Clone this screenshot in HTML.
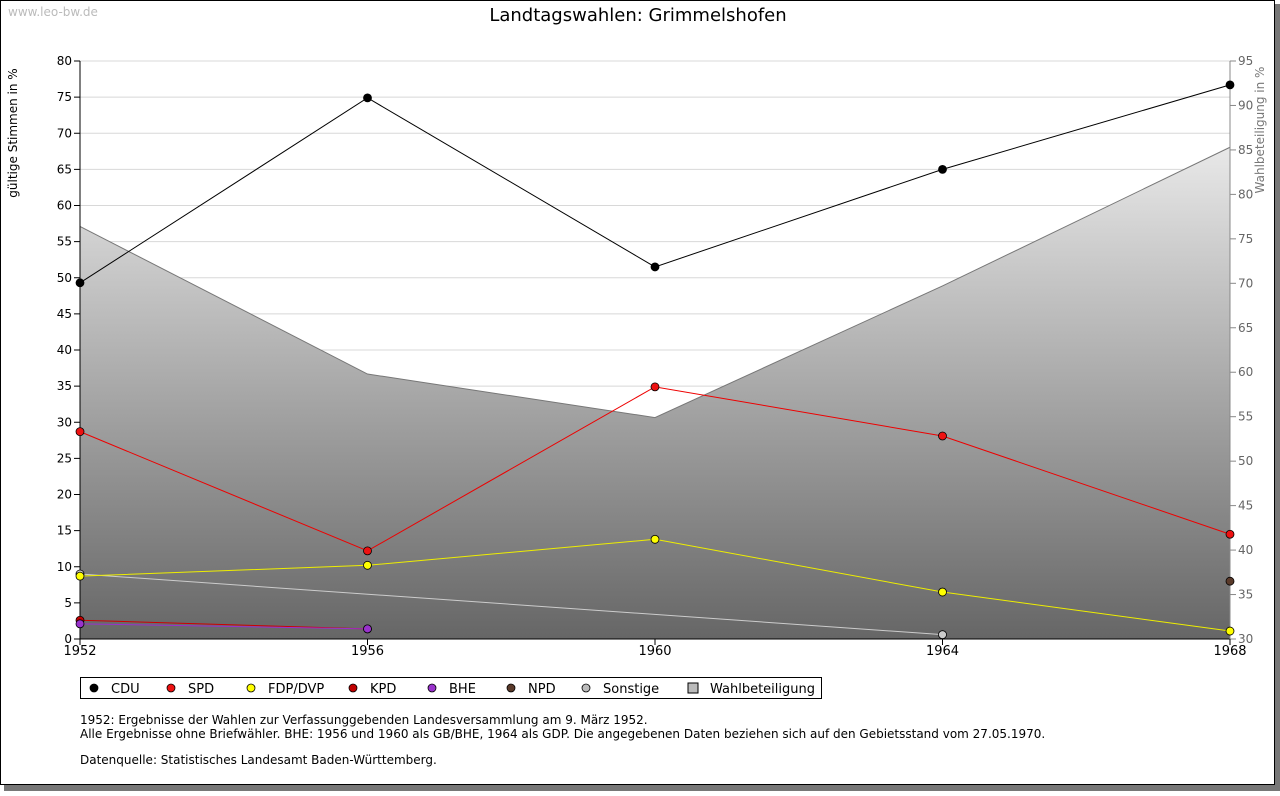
<!DOCTYPE html>
<html><head><meta charset="utf-8">
<style>
html,body{margin:0;padding:0;background:#fff;}
body{width:1280px;height:791px;overflow:hidden;font-family:"Liberation Sans","DejaVu Sans",sans-serif;}
svg text{font-family:"DejaVu Sans","Liberation Sans",sans-serif;}
</style></head>
<body>
<svg id="chart" width="1280" height="791" xmlns="http://www.w3.org/2000/svg">
<defs>
<linearGradient id="wbg" x1="0" y1="61" x2="0" y2="639" gradientUnits="userSpaceOnUse">
<stop offset="0" stop-color="#ffffff"/><stop offset="1" stop-color="#666666"/>
</linearGradient>
</defs>
<rect x="4" y="4" width="1276" height="787" fill="#777"/>
<rect x="0.5" y="0.5" width="1274" height="784" fill="#fff" stroke="#000"/>
<text x="8" y="16" font-size="12" fill="#bbb">www.leo-bw.de</text>
<text x="638" y="21" font-size="18" text-anchor="middle" fill="#000">Landtagswahlen: Grimmelshofen</text>
<text transform="translate(17,133) rotate(-90)" font-size="12" text-anchor="middle">gültige Stimmen in %</text>
<text transform="translate(1264,130) rotate(-90)" font-size="12" text-anchor="middle" fill="#777">Wahlbeteiligung in %</text>
<g id="grid"></g><g id="area"></g><g id="axes"></g><g id="series"></g>
<g>
<rect x="80.5" y="677.5" width="741" height="21" fill="#fff" stroke="#000"/>
<g id="legend"></g>
</g>
<text x="80" y="724" font-size="12">1952: Ergebnisse der Wahlen zur Verfassunggebenden Landesversammlung am 9. März 1952.</text>
<text x="80" y="738" font-size="12">Alle Ergebnisse ohne Briefwähler. BHE: 1956 und 1960 als GB/BHE, 1964 als GDP. Die angegebenen Daten beziehen sich auf den Gebietsstand vom 27.05.1970.</text>
<text x="80" y="764" font-size="12">Datenquelle: Statistisches Landesamt Baden-Württemberg.</text>
</svg>
<script>
const years=[1952,1956,1960,1964,1968];
const cdu=[49.3,74.9,51.5,65.0,76.7];
const spd=[28.7,12.2,34.9,28.1,14.5];
const fdp=[8.7,10.2,13.8,6.5,1.1];
const kpd=[2.6,1.4,null,null,null];
const bhe=[2.1,1.4,null,null,null];
const npd=[null,null,null,null,8.0];
const sonstige=[9.0,null,null,0.6,null];
const wahlbeteiligung=[76.4,59.8,54.9,69.7,85.3];
const leftTicks=[0,5,10,15,20,25,30,35,40,45,50,55,60,65,70,75,80];
const rightTicks=[30,35,40,45,50,55,60,65,70,75,80,85,90,95];
const legendLabels=["CDU","SPD","FDP/DVP","KPD","BHE","NPD","Sonstige","Wahlbeteiligung"];

const X0=80,X1=1230,Y0=639,Y1=61;
const xs=y=>X0+(y-1952)/(1968-1952)*(X1-X0);
const ys=v=>Y0-v/80*(Y0-Y1);
const ys2=v=>Y0-(v-30)/65*(Y0-Y1);
const NS="http://www.w3.org/2000/svg";
function mk(tag,attrs,parent){const e=document.createElementNS(NS,tag);for(const k in attrs)e.setAttribute(k,attrs[k]);parent.appendChild(e);return e;}
const grid=document.getElementById('grid'),axes=document.getElementById('axes'),area=document.getElementById('area'),ser=document.getElementById('series'),leg=document.getElementById('legend');

leftTicks.forEach(t=>{const y=ys(t);
 if(t>0){const l=mk('line',{x1:X0,x2:X1,y1:y,y2:y,stroke:'#d8d8d8'},grid);
 
 }
 mk('line',{x1:X0-6,x2:X0,y1:y,y2:y,stroke:'#000'},axes);
 const tx=mk('text',{x:X0-8,y:y+4,'font-size':12,'text-anchor':'end'},axes);tx.textContent=t;
 
 
});
rightTicks.forEach(t=>{const y=ys2(t);
 mk('line',{x1:X1,x2:X1+6,y1:y,y2:y,stroke:'#888'},axes);
 const tx=mk('text',{x:X1+8,y:y+4,'font-size':12,fill:'#666'},axes);tx.textContent=t;
 
 
});
let d='M'+xs(years[0])+','+Y0;
years.forEach((yr,i)=>{d+=' L'+xs(yr)+','+ys2(wahlbeteiligung[i]);});
d+=' L'+xs(years[years.length-1])+','+Y0+' Z';
const ar=mk('path',{d:d,fill:'url(#wbg)',stroke:'none'},area);


const al=mk('polyline',{points:years.map((yr,i)=>xs(yr)+','+ys2(wahlbeteiligung[i])).join(' '),fill:'none',stroke:'#777'},area);



mk('line',{x1:X0,x2:X0,y1:Y1,y2:Y0,stroke:'#000'},axes);
mk('line',{x1:X0,x2:X1,y1:Y0,y2:Y0,stroke:'#000'},axes);
mk('line',{x1:X1,x2:X1,y1:Y1,y2:Y0,stroke:'#888'},axes);
years.forEach(yr=>{const x=xs(yr);
 mk('line',{x1:x,x2:x,y1:Y0,y2:Y0+6,stroke:'#000'},axes);
 const tx=mk('text',{x:x,y:Y0+16,'font-size':13,'text-anchor':'middle'},axes);tx.textContent=yr;
 
 
});

const series=[[sonstige,'#ccc','#ccc','sonstige'],[npd,'#5a3a2a','#5a3a2a','npd'],[kpd,'#c00','#c00000','kpd'],[bhe,'#9932cc','#9932cc','bhe'],[fdp,'#ee0','#ffff00','fdp'],[spd,'#e00','#ee1111','spd'],[cdu,'#000','#000','cdu']];
series.forEach(([vals,lc,fc,name])=>{
 const pts=[];vals.forEach((v,i)=>{if(v!==null)pts.push([xs(years[i]),ys(v)]);});
 if(pts.length>1){const pl=mk('polyline',{points:pts.map(p=>p.join(',')).join(' '),fill:'none',stroke:lc,'stroke-width':1},ser);
 
 }
 pts.forEach(p=>{const c=mk('circle',{cx:p[0],cy:p[1],r:4,fill:fc,stroke:'#000','stroke-width':0.8},ser);
 
 });
});

const legCols=['#000','#ee1111','#ffff00','#c00000','#9932cc','#5a3a2a','#bbb'];
const legX=[94,171,251,353,432,511,586,693];
legendLabels.forEach((lab,i)=>{const x=legX[i],y=688;
 if(i<7){const m=mk('circle',{cx:x,cy:y,r:4,fill:legCols[i],stroke:'#000','stroke-width':0.8},leg);
 
 }
 else{const m=mk('rect',{x:x-5,y:y-5,width:10,height:10,fill:'#bbb',stroke:'#000'},leg);
 
 }
 const t=mk('text',{x:x+17,y:y+5,'font-size':13},leg);t.textContent=lab;
 
 
});
</script>
</body></html>
